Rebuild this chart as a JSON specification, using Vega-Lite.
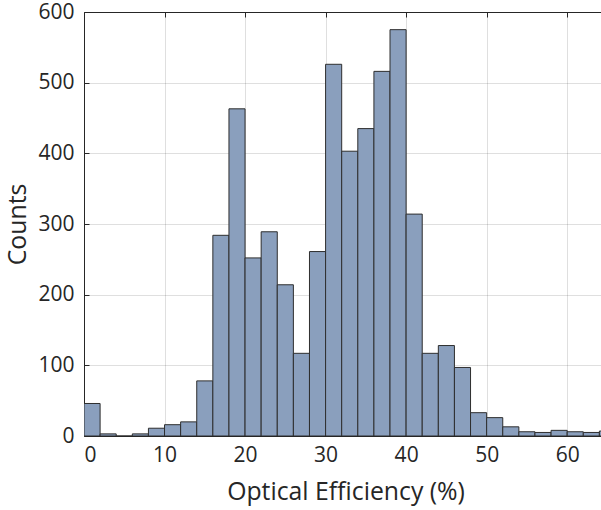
{
  "$schema": "https://vega.github.io/schema/vega-lite/v6.json",
  "width": 517,
  "height": 424,
  "autosize": {"type": "none"},
  "padding": {"left": 84, "top": 12, "right": 0, "bottom": 74},
  "config": {
    "view": {"stroke": null},
    "font": "Open Sans",
    "axis": {
      "domainColor": "#262626",
      "tickColor": "#262626",
      "labelColor": "#262626",
      "titleColor": "#262626",
      "labelFont": "Open Sans",
      "titleFont": "Open Sans",
      "labelFontSize": 21,
      "titleFontSize": 24.8,
      "titleFontWeight": "normal",
      "gridColor": "#262626",
      "gridOpacity": 0.15,
      "tickSize": -5,
      "zindex": 1
    }
  },
  "data": {
    "values": [
      {"start": 0, "end": 2, "count": 46},
      {"start": 2, "end": 4, "count": 3},
      {"start": 4, "end": 6, "count": 0},
      {"start": 6, "end": 8, "count": 3},
      {"start": 8, "end": 10, "count": 11},
      {"start": 10, "end": 12, "count": 16},
      {"start": 12, "end": 14, "count": 20},
      {"start": 14, "end": 16, "count": 78},
      {"start": 16, "end": 18, "count": 284},
      {"start": 18, "end": 20, "count": 463},
      {"start": 20, "end": 22, "count": 252},
      {"start": 22, "end": 24, "count": 289},
      {"start": 24, "end": 26, "count": 214},
      {"start": 26, "end": 28, "count": 117},
      {"start": 28, "end": 30, "count": 261},
      {"start": 30, "end": 32, "count": 526},
      {"start": 32, "end": 34, "count": 403},
      {"start": 34, "end": 36, "count": 435},
      {"start": 36, "end": 38, "count": 516},
      {"start": 38, "end": 40, "count": 575},
      {"start": 40, "end": 42, "count": 314},
      {"start": 42, "end": 44, "count": 117},
      {"start": 44, "end": 46, "count": 128},
      {"start": 46, "end": 48, "count": 97},
      {"start": 48, "end": 50, "count": 33},
      {"start": 50, "end": 52, "count": 26},
      {"start": 52, "end": 54, "count": 13},
      {"start": 54, "end": 56, "count": 6},
      {"start": 56, "end": 58, "count": 5},
      {"start": 58, "end": 60, "count": 8},
      {"start": 60, "end": 62, "count": 6},
      {"start": 62, "end": 64, "count": 5},
      {"start": 64, "end": 66, "count": 7}
    ]
  },
  "layer": [
    {
      "mark": {"type": "bar", "fill": "#8a9fbd", "stroke": "#2e2e2e", "strokeWidth": 1, "clip": true},
      "encoding": {
        "x": {
          "field": "start", "type": "quantitative",
          "scale": {"domain": [0, 64.2], "nice": false, "zero": false},
          "axis": {"orient": "bottom", "values": [0, 10, 20, 30, 40, 50, 60], "title": "Optical Efficiency (%)", "labelPadding": 13, "titlePadding": 14, "titleX": 261.5}
        },
        "x2": {"field": "end"},
        "y": {
          "field": "count", "type": "quantitative",
          "scale": {"domain": [0, 600], "nice": false},
          "axis": {"values": [0, 100, 200, 300, 400, 500, 600], "title": "Counts", "labelPadding": 15, "titlePadding": 7}
        },
        "y2": {"datum": 0}
      }
    },
    {
      "mark": {"type": "rule", "opacity": 0},
      "encoding": {
        "x": {
          "field": "start", "type": "quantitative",
          "axis": {"orient": "top", "values": [0, 10, 20, 30, 40, 50, 60], "labels": false, "grid": false, "title": null}
        }
      }
    }
  ],
  "resolve": {"axis": {"x": "independent"}}
}
